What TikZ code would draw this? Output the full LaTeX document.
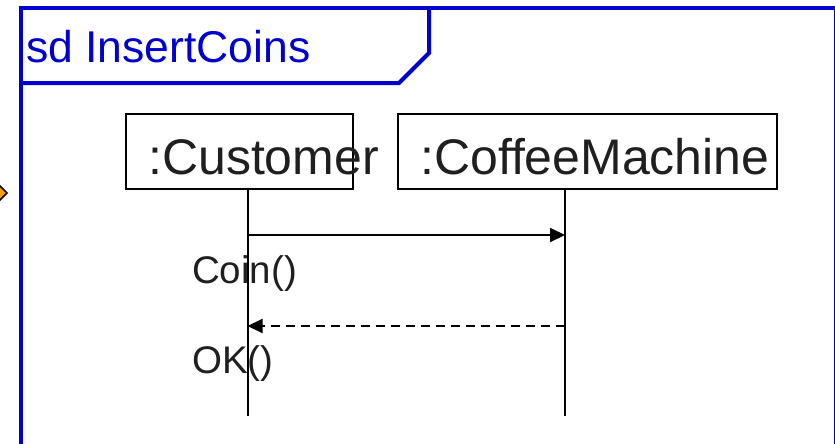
\documentclass[tikz,border=0pt]{standalone}
\usepackage{fontspec}
\setmainfont{Liberation Sans}
\usetikzlibrary{arrows.meta}
\definecolor{framblue}{RGB}{0,0,208}
\definecolor{markorange}{RGB}{255,160,0}
\tikzset{
  frameline/.style={draw=framblue, line width=4pt},
  lifebox/.style={draw=black, line width=1.8pt, rectangle, inner sep=0pt},
  lifeline/.style={draw=black, line width=2pt},
  callmsg/.style={draw=black, line width=2pt, -{Triangle[length=15pt,width=14pt]}},
  replymsg/.style={draw=black, line width=2pt, dash pattern=on 9pt off 6pt, -{Triangle[length=15pt,width=14pt]}},
  bigtxt/.style={inner sep=0pt, anchor=base west, text=black!88, font=\fontsize{50}{56}\selectfont},
  msgtxt/.style={inner sep=0pt, anchor=base west, text=black!88, font=\fontsize{38.5}{42}\selectfont},
}
\begin{document}
\begin{tikzpicture}[x=1pt, y=-1pt]
\useasboundingbox (0,0) rectangle (835,444);
\begin{scope}
\clip (0,0) rectangle (835,444);
% small marker at the left border
\filldraw[fill=markorange, draw=black, line width=1.5pt]
  (-4,182) -- (7,193) -- (-4,204) -- (-15,193) -- cycle;
% interaction frame and its name tab
\draw[frameline] (21,460) -- (21,8.5) -- (835.5,8.5) -- (835.5,460);
\draw[frameline] (21,83) -- (399,83) -- (429,53) -- (429,8.5);
\end{scope}
\node[inner sep=0pt, anchor=base west, text=framblue, font=\fontsize{44.5}{48}\selectfont]
  (title) at (26,63) {sd InsertCoins};

% lifeline heads
\node[lifebox, minimum width=227pt, minimum height=75pt] (cust) at (239.5,151.5) {};
\node[lifebox, minimum width=379pt, minimum height=75pt] (cm) at (587.5,151.5) {};
\node[bigtxt] (custname) at (148,174) {:Customer};
\node[bigtxt] (cmname) at (420,174) {:CoffeeMachine};

% lifelines
\coordinate (custend) at (247.5,416);
\coordinate (cmend) at (565,416);
\draw[lifeline] (custend |- cust.south) -- (custend);
\draw[lifeline] (cmend |- cm.south) -- (cmend);

% messages
\coordinate (coinfrom) at (247.5,235);
\coordinate (cointo) at (565,235);
\coordinate (okfrom) at (565,326);
\coordinate (okto) at (247.5,326);
\draw[callmsg] (coinfrom) -- (cointo);
\draw[replymsg] (okfrom) -- (okto);
\node[msgtxt] (coinlbl) at (192,283) {Coin()};
\node[msgtxt] (oklbl) at (192,373) {OK()};
\end{tikzpicture}
\end{document}
